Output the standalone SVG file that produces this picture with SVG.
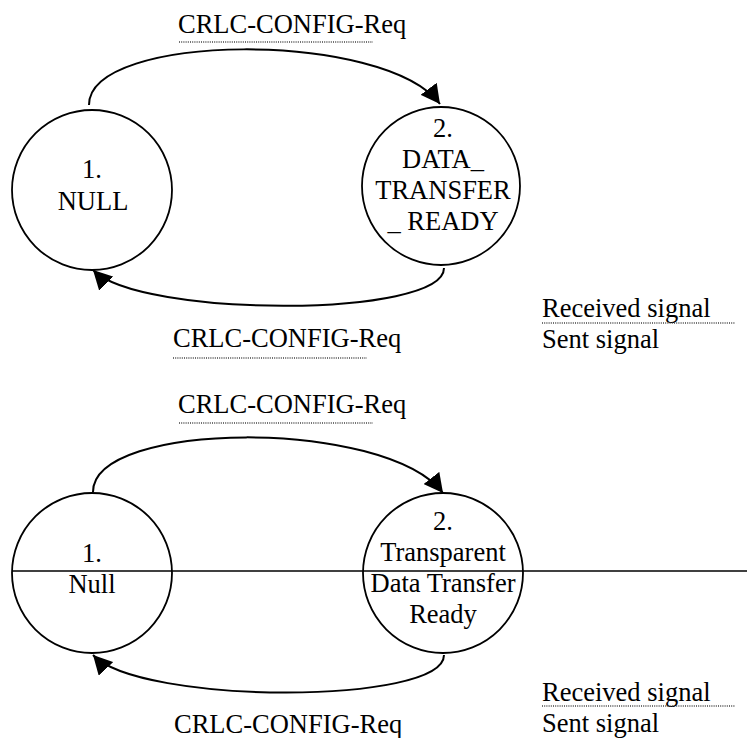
<svg xmlns="http://www.w3.org/2000/svg" width="747" height="738" viewBox="0 0 747 738">
  <style>
    .t { font-size: 26.5px; fill: #000; }
    .mid { text-anchor: middle; }
    .state { fill: #fff; stroke: #000; stroke-width: 1.8; }
    .conn { fill: none; stroke: #000; stroke-width: 2; }
    .dots { stroke: #444; stroke-width: 1.3; stroke-dasharray: 1 1.2; }
    .rule { stroke: #000; stroke-width: 1.4; }
  </style>
  <defs>
    <marker id="arrow" viewBox="0 0 19 20" refX="19" refY="10" markerWidth="19" markerHeight="20" markerUnits="userSpaceOnUse" orient="auto">
      <path d="M0,0 L19,10 L0,20 z" fill="#000"/>
    </marker>
  </defs>

  <g font-family="'Liberation Serif', 'Times New Roman', Times, serif">
  <!-- upper state machine -->
  <g id="connectors-upper">
    <path class="conn" d="M89,105 C89,32 385,30 440,104" marker-end="url(#arrow)"/>
    <path class="conn" d="M444,268 C444,318 140,318 93,270" marker-end="url(#arrow)"/>
  </g>
  <g id="state-null">
    <circle class="state" cx="92" cy="190" r="80"/>
    <text class="t mid" x="92" y="178">1.</text>
    <text class="t mid" x="93" y="210">NULL</text>
  </g>
  <g id="state-data-transfer-ready">
    <circle class="state" cx="441" cy="186" r="79"/>
    <text class="t mid" x="443" y="137">2.</text>
    <text class="t mid" x="443" y="168">DATA_</text>
    <text class="t mid" x="443" y="199">TRANSFER</text>
    <text class="t mid" x="443" y="230">_ READY</text>
  </g>
  <g id="labels-upper">
    <text class="t" x="178" y="33">CRLC-CONFIG-Req</text>
    <line class="dots" x1="179" y1="42" x2="373" y2="42"/>
    <text class="t" x="173" y="347">CRLC-CONFIG-Req</text>
    <line class="dots" x1="173" y1="358" x2="367" y2="358"/>
  </g>
  <g id="legend-upper">
    <text class="t" x="542" y="317">Received signal</text>
    <line class="dots" x1="542" y1="323" x2="735" y2="323"/>
    <text class="t" x="542" y="348">Sent signal</text>
  </g>

  <!-- lower state machine -->
  <g id="connectors-lower">
    <path class="conn" d="M93,492 C93,420 385,418 443,493" marker-end="url(#arrow)"/>
    <path class="conn" d="M444,655 C444,705 140,705 93,655" marker-end="url(#arrow)"/>
  </g>
  <g id="state-null-lower">
    <circle class="state" cx="92" cy="573" r="80"/>
    <text class="t mid" x="92" y="562">1.</text>
    <text class="t mid" x="92" y="593">Null</text>
  </g>
  <g id="state-transparent-ready">
    <circle class="state" cx="443" cy="573" r="80"/>
    <text class="t mid" x="443" y="530">2.</text>
    <text class="t mid" x="443" y="561">Transparent</text>
    <text class="t mid" x="443" y="592">Data Transfer</text>
    <text class="t mid" x="443" y="623">Ready</text>
  </g>
  <line id="divider" class="rule" x1="12" y1="571" x2="747" y2="571"/>
  <g id="labels-lower">
    <text class="t" x="178" y="413">CRLC-CONFIG-Req</text>
    <line class="dots" x1="179" y1="423" x2="373" y2="423"/>
    <text class="t" x="174" y="733">CRLC-CONFIG-Req</text>
  </g>
  <g id="legend-lower">
    <text class="t" x="542" y="701">Received signal</text>
    <line class="dots" x1="542" y1="706" x2="735" y2="706"/>
    <text class="t" x="542" y="732">Sent signal</text>
  </g>
  </g>
</svg>
